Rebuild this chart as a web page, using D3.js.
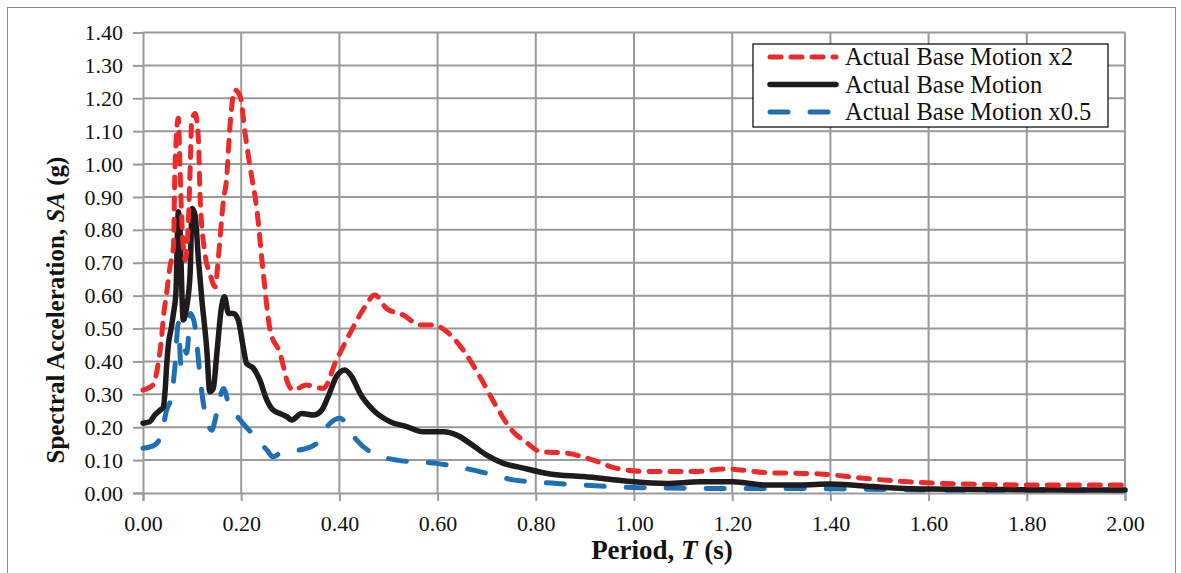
<!DOCTYPE html>
<html>
<head>
<meta charset="utf-8">
<script src="https://cdn.jsdelivr.net/npm/d3@7"></script>
<style>
  html, body { margin: 0; padding: 0; background: #fff; }
  svg { display: block; font-family: "Liberation Serif", "Times New Roman", serif; }
</style>
</head>
<body>
<svg id="chart" width="1181" height="573"></svg>
<script>
// ---- Data ----
const xTicks = [0, 0.2, 0.4, 0.6, 0.8, 1.0, 1.2, 1.4, 1.6, 1.8, 2.0];
const yTicks = [0, 0.1, 0.2, 0.3, 0.4, 0.5, 0.6, 0.7, 0.8, 0.9, 1.0, 1.1, 1.2, 1.3, 1.4];
const seriesNames = ["Actual Base Motion x2", "Actual Base Motion", "Actual Base Motion x0.5"];

const periodX2 = [0, 0.02, 0.031, 0.038, 0.041, 0.048, 0.055, 0.062, 0.065, 0.072, 0.075, 0.079, 0.086, 0.092, 0.096, 0.099, 0.106, 0.113, 0.116, 0.126, 0.136, 0.147, 0.153, 0.164, 0.170, 0.177, 0.187, 0.198, 0.208, 0.218, 0.232, 0.245, 0.259, 0.279, 0.296, 0.306, 0.333, 0.367, 0.394, 0.425, 0.452, 0.472, 0.496, 0.53, 0.564, 0.591, 0.619, 0.652, 0.686, 0.72, 0.754, 0.78, 0.809, 0.863, 0.917, 0.965, 1.033, 1.121, 1.189, 1.27, 1.324, 1.379, 1.467, 1.569, 1.671, 1.84, 2.0];
const saX2 = [0.313, 0.328, 0.394, 0.475, 0.526, 0.607, 0.688, 0.749, 0.982, 1.139, 1.012, 0.83, 0.708, 0.809, 0.982, 1.124, 1.154, 1.073, 0.911, 0.729, 0.668, 0.627, 0.708, 0.891, 0.951, 1.113, 1.225, 1.205, 1.093, 0.992, 0.86, 0.668, 0.495, 0.425, 0.33, 0.313, 0.328, 0.318, 0.404, 0.495, 0.566, 0.602, 0.561, 0.541, 0.511, 0.511, 0.490, 0.435, 0.354, 0.262, 0.186, 0.155, 0.126, 0.121, 0.10, 0.075, 0.065, 0.065, 0.073, 0.062, 0.060, 0.058, 0.045, 0.033, 0.027, 0.024, 0.024];

const periodX1 = [0, 0.014, 0.024, 0.035, 0.041, 0.045, 0.048, 0.052, 0.058, 0.062, 0.067, 0.072, 0.075, 0.082, 0.089, 0.096, 0.100, 0.106, 0.113, 0.120, 0.130, 0.136, 0.143, 0.151, 0.160, 0.166, 0.174, 0.184, 0.194, 0.204, 0.211, 0.225, 0.238, 0.252, 0.265, 0.279, 0.293, 0.303, 0.323, 0.347, 0.364, 0.377, 0.394, 0.411, 0.425, 0.442, 0.469, 0.503, 0.537, 0.571, 0.612, 0.639, 0.666, 0.700, 0.734, 0.768, 0.829, 0.897, 0.95, 1.0, 1.067, 1.134, 1.202, 1.27, 1.338, 1.40, 1.50, 1.60, 1.70, 1.80, 1.90, 2.0];
const saX1 = [0.212, 0.217, 0.237, 0.252, 0.26, 0.31, 0.384, 0.455, 0.505, 0.546, 0.608, 0.855, 0.81, 0.526, 0.566, 0.669, 0.865, 0.845, 0.708, 0.587, 0.435, 0.308, 0.318, 0.435, 0.566, 0.597, 0.546, 0.546, 0.526, 0.445, 0.394, 0.379, 0.343, 0.283, 0.252, 0.242, 0.232, 0.222, 0.242, 0.237, 0.252, 0.293, 0.354, 0.374, 0.354, 0.303, 0.252, 0.217, 0.202, 0.186, 0.186, 0.176, 0.151, 0.115, 0.090, 0.078, 0.058, 0.050, 0.042, 0.034, 0.029, 0.034, 0.034, 0.024, 0.024, 0.027, 0.018, 0.012, 0.011, 0.010, 0.009, 0.009];

const periodX05 = [0, 0.024, 0.038, 0.048, 0.058, 0.065, 0.072, 0.077, 0.082, 0.089, 0.097, 0.106, 0.113, 0.12, 0.13, 0.14, 0.15, 0.164, 0.174, 0.198, 0.225, 0.252, 0.265, 0.279, 0.30, 0.326, 0.354, 0.381, 0.401, 0.411, 0.435, 0.462, 0.517, 0.598, 0.639, 0.70, 0.754, 0.843, 0.931, 1.012, 1.168, 1.318, 1.45, 1.6, 1.8, 2.0];
const saX05 = [0.136, 0.146, 0.181, 0.252, 0.293, 0.384, 0.516, 0.394, 0.445, 0.425, 0.546, 0.505, 0.404, 0.303, 0.222, 0.191, 0.242, 0.318, 0.273, 0.222, 0.176, 0.131, 0.110, 0.121, 0.128, 0.133, 0.151, 0.212, 0.227, 0.217, 0.161, 0.126, 0.10, 0.090, 0.080, 0.06, 0.040, 0.029, 0.021, 0.016, 0.014, 0.014, 0.012, 0.009, 0.008, 0.008];

// ---- Layout / style ----
const svg = d3.select("#chart");
const plot = { left: 143, right: 1125, top: 32.5, bottom: 493 };
const x = d3.scaleLinear().domain([0, 2]).range([plot.left, plot.right]);
const y = d3.scaleLinear().domain([0, 1.4]).range([plot.bottom, plot.top]);
const gridColor = "#9a9a9a";

svg.append("rect").attr("width", 1181).attr("height", 573).attr("fill", "#fff");
svg.append("rect").attr("x", 7.5).attr("y", 7.5).attr("width", 1168).attr("height", 580)
  .attr("fill", "none").attr("stroke", "#8a8a8a").attr("stroke-width", 1);

// gridlines
const grid = svg.append("g");
grid.selectAll("line.h").data(yTicks.filter(d => d > 0)).join("line")
  .attr("x1", plot.left).attr("x2", plot.right)
  .attr("y1", d => y(d)).attr("y2", d => y(d))
  .attr("stroke", gridColor).attr("stroke-width", 2);
grid.selectAll("line.v").data(xTicks.filter(d => d > 0)).join("line")
  .attr("y1", plot.top).attr("y2", plot.bottom)
  .attr("x1", d => x(d)).attr("x2", d => x(d))
  .attr("stroke", gridColor).attr("stroke-width", 2);

// axes
const fmt = d3.format(".2f");
const yAxis = svg.append("g").attr("transform", `translate(${plot.left},0)`)
  .call(d3.axisLeft(y).tickValues(yTicks).tickFormat(fmt).tickSize(10).tickPadding(10));
const xAxis = svg.append("g").attr("transform", `translate(0,${plot.bottom})`)
  .call(d3.axisBottom(x).tickValues(xTicks).tickFormat(fmt).tickSize(8).tickPadding(14));
[yAxis, xAxis].forEach(a => {
  a.select(".domain").attr("stroke", gridColor).attr("stroke-width", 2);
  a.selectAll(".tick line").attr("stroke", gridColor).attr("stroke-width", 2);
  a.selectAll(".tick text").attr("fill", "#111")
    .style("font-family", '"Liberation Serif", "Times New Roman", serif').style("font-size", "22px");
});

// series
const line = d3.line().x(d => x(d[0])).y(d => y(d[1])).curve(d3.curveMonotoneX);
const series = [
  { name: seriesNames[0], pts: d3.zip(periodX2, saX2), color: "#ed2a2a", dash: "11,10", width: 5 },
  { name: seriesNames[1], pts: d3.zip(periodX1, saX1), color: "#1f1a1c", dash: null, width: 5.5 },
  { name: seriesNames[2], pts: d3.zip(periodX05, saX05), color: "#1f6fb6", dash: "18,22", width: 5 }
];
const drawOrder = [series[2], series[1], series[0]];
svg.append("g").selectAll("path").data(drawOrder).join("path")
  .attr("d", s => line(s.pts))
  .attr("fill", "none")
  .attr("stroke", s => s.color)
  .attr("stroke-width", s => s.width)
  .attr("stroke-linecap", "round")
  .attr("stroke-linejoin", "round")
  .attr("stroke-dasharray", s => s.dash);

// legend
const lg = svg.append("g");
lg.append("rect").attr("x", 753).attr("y", 44).attr("width", 355).attr("height", 83)
  .attr("fill", "#fff").attr("stroke", "#000").attr("stroke-width", 1.2);
const rowY = [57, 84.5, 112];
series.forEach((s, i) => {
  lg.append("line").attr("x1", 770).attr("x2", 836).attr("y1", rowY[i]).attr("y2", rowY[i])
    .attr("stroke", s.color).attr("stroke-width", s.width)
    .attr("stroke-linecap", "round").attr("stroke-dasharray", s.dash);
  lg.append("text").attr("x", 845).attr("y", rowY[i] + 8)
    .attr("font-size", 24.5).attr("fill", "#111").text(s.name);
});

// axis titles
const yt = svg.append("text")
  .attr("transform", "translate(64,310) rotate(-90)")
  .attr("text-anchor", "middle").attr("font-size", 25).attr("font-weight", "bold").attr("fill", "#111");
yt.append("tspan").text("Spectral Acceleration, ");
yt.append("tspan").attr("font-style", "italic").text("SA");
yt.append("tspan").text(" (g)");

const xt = svg.append("text")
  .attr("x", 662).attr("y", 559)
  .attr("text-anchor", "middle").attr("font-size", 27).attr("font-weight", "bold").attr("fill", "#111");
xt.append("tspan").text("Period, ");
xt.append("tspan").attr("font-style", "italic").text("T");
xt.append("tspan").text(" (s)");
</script>
</body>
</html>
